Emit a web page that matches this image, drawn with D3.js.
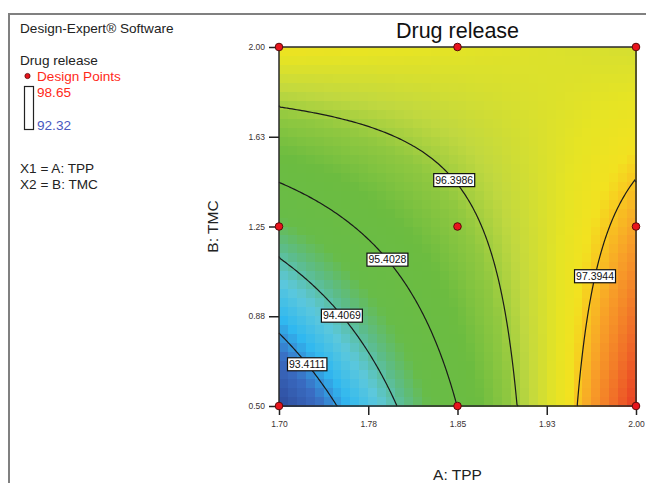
<!DOCTYPE html>
<html lang="en">
  <head>
    <meta charset="utf-8" />
    <title>Drug release contour</title>
    <script src="https://cdnjs.cloudflare.com/ajax/libs/d3/7.8.5/d3.min.js"></script>
    <style type="text/css">
      body {
        margin: 0;
        background: #fff;
      }
      text {
        font-family: "Liberation Sans", Arial, Helvetica, sans-serif;
      }
      .tick text {
        font-size: 8.5px;
        fill: #3a3030;
      }
      .tick line {
        stroke: #222;
        stroke-width: 1.5;
      }
      .contour {
        fill: none;
        stroke: #1a1a1a;
        stroke-width: 1.2;
      }
    </style>
  </head>

  <body>
    <div id="chart"></div>

    <script>
      // factor ranges and ticks
      const aDomain = [1.7, 2.0];
      const bDomain = [0.5, 2.0];
      const xTicks = [1.7, 1.775, 1.85, 1.925, 2.0];
      const xTickLabels = ["1.70", "1.78", "1.85", "1.93", "2.00"];
      const yTicks = [0.5, 0.875, 1.25, 1.625, 2.0];
      const yTickLabels = ["0.50", "0.88", "1.25", "1.63", "2.00"];

      // fitted model in coded units
      const terms = ["Intercept", "A", "B", "AB", "A^2", "B^2"];
      const coefs = [96.21, 1.39, 0.8, -1.57, 0, 0];

      // contour levels shown on the plot
      const levels = [93.4111, 94.4069, 95.4028, 96.3986, 97.3944];

      // 3x3 design
      const designA = [1.7, 1.85, 2.0, 1.7, 1.85, 2.0, 1.7, 1.85, 2.0];
      const designB = [0.5, 0.5, 0.5, 1.25, 1.25, 1.25, 2.0, 2.0, 2.0];

      const legendHigh = "98.65";
      const legendLow = "92.32";

      // colour ramp (blue -> cyan -> green -> yellow -> red)
      const rampValues = [92.45, 93.13, 93.63, 94.12, 94.54, 94.95, 95.78, 96.28, 96.61, 97.03, 97.25, 97.38, 97.61, 98.02, 98.37];
      const rampColors = ["#2e4a9a", "#3a6cc2", "#30b8f0", "#5cc8dc", "#5cbc8c", "#68bc48", "#6cbc40", "#90c840", "#c0d840", "#e6e424", "#f2e220", "#f8c820", "#f8a028", "#f06a28", "#e83a22"];

      const width = 646;
      const height = 483;
      const plot = { left: 279, right: 636, top: 47, bottom: 406 };

      const svg = d3
        .select("#chart")
        .append("svg")
        .attr("width", width)
        .attr("height", height);

      const x = d3.scaleLinear().domain(aDomain).range([plot.left, plot.right]);
      const y = d3.scaleLinear().domain(bDomain).range([plot.bottom, plot.top]);
      const color = d3.scaleLinear().domain(rampValues).range(rampColors).clamp(true);

      function model(A, B) {
        const a = (A - (aDomain[0] + aDomain[1]) / 2) / ((aDomain[1] - aDomain[0]) / 2);
        const b = (B - (bDomain[0] + bDomain[1]) / 2) / ((bDomain[1] - bDomain[0]) / 2);
        return coefs[0] + coefs[1] * a + coefs[2] * b + coefs[3] * a * b + coefs[4] * a * a + coefs[5] * b * b;
      }

      // outer frame (top + left)
      svg.append("path")
        .attr("d", `M9,${height}V14H${width}`)
        .attr("fill", "none")
        .attr("stroke", "#808080")
        .attr("stroke-width", 2);

      // heat map cells
      const cells = 40;
      const cellData = [];
      for (let j = 0; j < cells; j++) {
        for (let i = 0; i < cells; i++) {
          const A0 = aDomain[0] + (i * (aDomain[1] - aDomain[0])) / cells;
          const A1 = aDomain[0] + ((i + 1) * (aDomain[1] - aDomain[0])) / cells;
          const B0 = bDomain[1] - (j * (bDomain[1] - bDomain[0])) / cells;
          const B1 = bDomain[1] - ((j + 1) * (bDomain[1] - bDomain[0])) / cells;
          cellData.push({ A0, A1, B0, B1, v: model((A0 + A1) / 2, (B0 + B1) / 2) });
        }
      }
      svg.append("g")
        .attr("shape-rendering", "crispEdges")
        .selectAll("rect")
        .data(cellData)
        .join("rect")
        .attr("x", (d) => x(d.A0))
        .attr("y", (d) => y(d.B0))
        .attr("width", (d) => x(d.A1) - x(d.A0) + 0.6)
        .attr("height", (d) => y(d.B1) - y(d.B0) + 0.6)
        .attr("fill", (d) => color(d.v));

      // contour lines
      const n = 150;
      const grid = new Array(n * n);
      for (let j = 0; j < n; j++) {
        for (let i = 0; i < n; i++) {
          const A = aDomain[0] + ((i + 0.5) / n) * (aDomain[1] - aDomain[0]);
          const B = bDomain[1] - ((j + 0.5) / n) * (bDomain[1] - bDomain[0]);
          grid[j * n + i] = model(A, B);
        }
      }
      const cx = d3.scaleLinear().domain([0, n]).range([plot.left, plot.right]);
      const cy = d3.scaleLinear().domain([0, n]).range([plot.top, plot.bottom]);
      const contours = d3.contours().size([n, n]).thresholds(levels)(grid);

      // pull the open iso-lines out of the filled rings (drop grid-border parts)
      const eps = 1e-6;
      const onBorder = (p) => p[0] <= eps || p[0] >= n - eps || p[1] <= eps || p[1] >= n - eps;
      function isoRuns(ring) {
        const pts = ring.slice(0, -1);
        const k = pts.findIndex(onBorder);
        if (k < 0) return [ring];
        const rot = pts.slice(k).concat(pts.slice(0, k));
        rot.push(rot[0]);
        const runs = [];
        let cur = null;
        rot.forEach((p) => {
          if (onBorder(p)) {
            if (cur) {
              cur.push(p);
              if (cur.length > 2) runs.push(cur);
            }
            cur = [p];
          } else if (cur) cur.push(p);
        });
        return runs;
      }

      const lineGen = d3.line().x((p) => cx(p[0])).y((p) => cy(p[1]));
      const isoLines = contours.map((c) => {
        let runs = [];
        c.coordinates.forEach((poly) => poly.forEach((ring) => (runs = runs.concat(isoRuns(ring)))));
        runs = runs.map((r) => (r[0][1] > r[r.length - 1][1] ? r.slice().reverse() : r));
        return { value: c.value, runs };
      });

      const gLines = svg.append("g");
      isoLines.forEach((iso) => {
        iso.paths = iso.runs.map((r) =>
          gLines.append("path").attr("class", "contour").attr("d", lineGen(r))
        );
      });

      // contour labels
      const labelAt = 0.45;
      const gLabels = svg.append("g");
      isoLines.forEach((iso) => {
        if (!iso.paths.length) return;
        const node = iso.paths
          .map((p) => p.node())
          .sort((a, b) => b.getTotalLength() - a.getTotalLength())[0];
        const pt = node.getPointAtLength(node.getTotalLength() * labelAt);
        const g = gLabels.append("g").attr("transform", `translate(${pt.x},${pt.y})`);
        const rect = g.append("rect").attr("fill", "#fff").attr("stroke", "#111").attr("stroke-width", 1.2);
        const t = g.append("text")
          .attr("text-anchor", "middle")
          .attr("dy", "0.36em")
          .attr("font-size", "10.5px")
          .attr("fill", "#111")
          .text(d3.format(".4f")(iso.value));
        const w = t.node().getComputedTextLength() + 3;
        rect.attr("x", -w / 2).attr("y", -6.5).attr("width", w).attr("height", 13);
      });

      // plot frame
      svg.append("rect")
        .attr("x", plot.left)
        .attr("y", plot.top)
        .attr("width", plot.right - plot.left)
        .attr("height", plot.bottom - plot.top)
        .attr("fill", "none")
        .attr("stroke", "#2a2a2a")
        .attr("stroke-width", 1.5);

      // axes
      const xAxis = d3.axisBottom(x).tickValues(xTicks).tickSize(9).tickPadding(6)
        .tickFormat((d, i) => xTickLabels[i]);
      const yAxis = d3.axisLeft(y).tickValues(yTicks).tickSize(10).tickPadding(4)
        .tickFormat((d, i) => yTickLabels[i]);
      svg.append("g").attr("transform", `translate(0,${plot.bottom})`).call(xAxis)
        .call((g) => g.select(".domain").remove());
      svg.append("g").attr("transform", `translate(${plot.left},0)`).call(yAxis)
        .call((g) => g.select(".domain").remove());

      // design points
      svg.append("g")
        .selectAll("circle")
        .data(designA.map((a, i) => [a, designB[i]]))
        .join("circle")
        .attr("cx", (d) => x(d[0]))
        .attr("cy", (d) => y(d[1]))
        .attr("r", 3.8)
        .attr("fill", "#e8141c")
        .attr("stroke", "#5a0a0a")
        .attr("stroke-width", 1);

      // titles
      svg.append("text")
        .attr("x", (plot.left + plot.right) / 2)
        .attr("y", 38)
        .attr("text-anchor", "middle")
        .attr("font-size", "21.5px")
        .attr("fill", "#111")
        .text("Drug release");
      svg.append("text")
        .attr("x", (plot.left + plot.right) / 2)
        .attr("y", 480)
        .attr("text-anchor", "middle")
        .attr("font-size", "15.5px")
        .attr("fill", "#222")
        .text("A: TPP");
      svg.append("text")
        .attr("transform", `translate(218,${(plot.top + plot.bottom) / 2}) rotate(-90)`)
        .attr("text-anchor", "middle")
        .attr("font-size", "15.5px")
        .attr("fill", "#222")
        .text("B: TMC");

      // left legend
      const leg = svg.append("g").attr("font-size", "13.6px").attr("fill", "#222");
      leg.append("text").attr("x", 20).attr("y", 33).text("Design-Expert® Software");
      leg.append("text").attr("x", 20).attr("y", 65).text("Drug release");
      leg.append("circle").attr("cx", 27.5).attr("cy", 76).attr("r", 2.6)
        .attr("fill", "#e8141c").attr("stroke", "#5a0a0a").attr("stroke-width", 0.8);
      leg.append("text").attr("x", 37).attr("y", 81).attr("fill", "#ff2a1a").text("Design Points");
      leg.append("rect").attr("x", 24.5).attr("y", 86.5).attr("width", 9).attr("height", 43)
        .attr("fill", "none").attr("stroke", "#222").attr("stroke-width", 1.2);
      leg.append("text").attr("x", 37).attr("y", 97).attr("fill", "#ff2a1a").text(legendHigh);
      leg.append("text").attr("x", 37).attr("y", 130).attr("fill", "#4a58c0").text(legendLow);
      leg.append("text").attr("x", 20).attr("y", 173).text("X1 = A: TPP");
      leg.append("text").attr("x", 20).attr("y", 189).text("X2 = B: TMC");
    </script>
  </body>
</html>
